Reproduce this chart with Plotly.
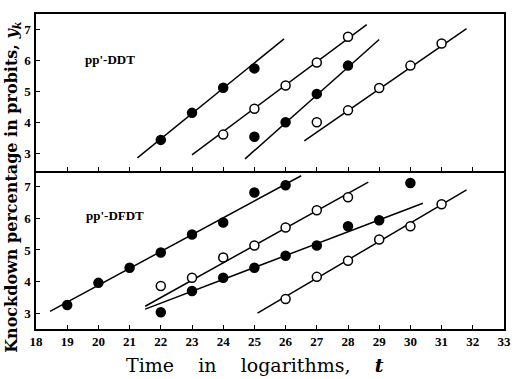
import plotly.graph_objects as go
from plotly.subplots import make_subplots

# ---- data ----
x_ticks = list(range(18, 34))
y_ticks = [3, 4, 5, 6, 7]

# upper panel: pp'-DDT
ddt_a_x = [22, 23, 24, 25]
ddt_a_y = [3.45, 4.32, 5.13, 5.75]
ddt_a_line_x = [21.25, 25.95]
ddt_a_line_y = [2.87, 6.70]

ddt_b_x = [24, 25, 26, 27, 28]
ddt_b_y = [3.62, 4.45, 5.20, 5.94, 6.77]
ddt_b_line_x = [23.0, 28.6]
ddt_b_line_y = [2.97, 7.16]

ddt_c_x = [25, 26, 27, 28]
ddt_c_y = [3.55, 4.02, 4.93, 5.84]
ddt_c_line_x = [24.7, 29.0]
ddt_c_line_y = [2.84, 6.68]

ddt_d_x = [27, 28, 29, 30, 31]
ddt_d_y = [4.02, 4.40, 5.12, 5.84, 6.55]
ddt_d_line_x = [26.6, 31.8]
ddt_d_line_y = [3.42, 7.03]

# lower panel: pp'-DFDT
dfdt_e_x = [19, 20, 21, 22, 23, 24, 25, 26]
dfdt_e_y = [3.26, 3.96, 4.44, 4.92, 5.49, 5.87, 6.82, 7.05]
dfdt_e_line_x = [18.45, 26.5]
dfdt_e_line_y = [3.06, 7.35]

dfdt_f_x = [22, 23, 24, 25, 26, 27, 28]
dfdt_f_y = [3.86, 4.12, 4.76, 5.14, 5.71, 6.26, 6.67]
dfdt_f_line_x = [21.5, 28.65]
dfdt_f_line_y = [3.22, 7.15]

dfdt_g_x = [22, 23, 24, 25, 26, 27, 28, 29, 30]
dfdt_g_y = [3.03, 3.70, 4.12, 4.44, 4.82, 5.14, 5.75, 5.94, 7.12]
dfdt_g_line_x = [21.5, 30.4]
dfdt_g_line_y = [3.13, 6.48]

dfdt_h_x = [26, 27, 28, 29, 30, 31]
dfdt_h_y = [3.45, 4.15, 4.66, 5.33, 5.75, 6.45]
dfdt_h_line_x = [25.1, 31.8]
dfdt_h_line_y = [3.00, 6.90]

FONT = "Liberation Serif"
TITLE_FONT = "DejaVu Serif"

fig = make_subplots(rows=2, cols=1, shared_xaxes=False, vertical_spacing=0)


def add_series(px, py, lx, ly, filled, row):
    fig.add_trace(go.Scatter(x=lx, y=ly, mode="lines",
                             line=dict(color="black", width=1.5),
                             showlegend=False, hoverinfo="skip"), row=row, col=1)
    fig.add_trace(go.Scatter(x=px, y=py, mode="markers",
                             marker=dict(symbol="circle", size=9,
                                         color="black" if filled else "white",
                                         line=dict(color="black", width=1.5)),
                             showlegend=False), row=row, col=1)


add_series(ddt_a_x, ddt_a_y, ddt_a_line_x, ddt_a_line_y, True, 1)
add_series(ddt_b_x, ddt_b_y, ddt_b_line_x, ddt_b_line_y, False, 1)
add_series(ddt_c_x, ddt_c_y, ddt_c_line_x, ddt_c_line_y, True, 1)
add_series(ddt_d_x, ddt_d_y, ddt_d_line_x, ddt_d_line_y, False, 1)

add_series(dfdt_e_x, dfdt_e_y, dfdt_e_line_x, dfdt_e_line_y, True, 2)
add_series(dfdt_f_x, dfdt_f_y, dfdt_f_line_x, dfdt_f_line_y, False, 2)
add_series(dfdt_g_x, dfdt_g_y, dfdt_g_line_x, dfdt_g_line_y, True, 2)
add_series(dfdt_h_x, dfdt_h_y, dfdt_h_line_x, dfdt_h_line_y, False, 2)

axis_common = dict(showline=True, linecolor="black", linewidth=1.5, mirror=True,
                   ticks="inside", ticklen=4, tickwidth=1.2, tickcolor="black",
                   showgrid=False, zeroline=False,
                   tickfont=dict(family=FONT, size=13, color="black"))

fig.update_xaxes(range=[18, 33], tickvals=x_ticks,
                 ticktext=["<b>%d</b>" % v for v in x_ticks], **axis_common)
fig.update_xaxes(showticklabels=False, row=1, col=1)
fig.update_xaxes(mirror=False, row=2, col=1)
fig.update_yaxes(tickvals=y_ticks, ticktext=["<b>%d</b>" % v for v in y_ticks],
                 ticklabelstandoff=1, **axis_common)
fig.update_yaxes(range=[2.45, 7.5], row=1, col=1)
fig.update_yaxes(range=[2.5, 7.5], row=2, col=1)

fig.update_layout(
    width=517, height=379,
    margin=dict(l=36, r=6, t=14, b=50),
    paper_bgcolor="white", plot_bgcolor="white",
    font=dict(family=FONT, color="black"),
)
fig.layout.yaxis.domain = [0.5016, 1.0]
fig.layout.yaxis2.domain = [0.0, 0.5016]

fig.add_annotation(x=20.36, y=6.03, xref="x", yref="y", text="<b>pp'-DDT</b>",
                   showarrow=False, font=dict(family=FONT, size=13, color="black"))
fig.add_annotation(x=20.52, y=6.1, xref="x2", yref="y2", text="<b>pp'-DFDT</b>",
                   showarrow=False, font=dict(family=FONT, size=13, color="black"))

fig.add_annotation(x=-0.05, y=0.45, xref="paper", yref="paper", textangle=-90,
                   xanchor="center", yanchor="middle",
                   text="<b>Knockdown percentage in probits, <i>y</i><sub><i>k</i></sub></b>",
                   showarrow=False, font=dict(family=TITLE_FONT, size=16, color="black"))
fig.add_annotation(x=0.469, y=-0.115, xref="paper", yref="paper", yanchor="middle",
                   text="Time&nbsp;&nbsp;&nbsp; in&nbsp;&nbsp;&nbsp; logarithms,&nbsp;&nbsp;&nbsp; <b><i>t</i></b>",
                   showarrow=False, font=dict(family=TITLE_FONT, size=19, color="black"))

fig.write_html("out.html", config={"displayModeBar": False},
               post_script="document.body.style.margin='0';document.body.style.padding='0';")
